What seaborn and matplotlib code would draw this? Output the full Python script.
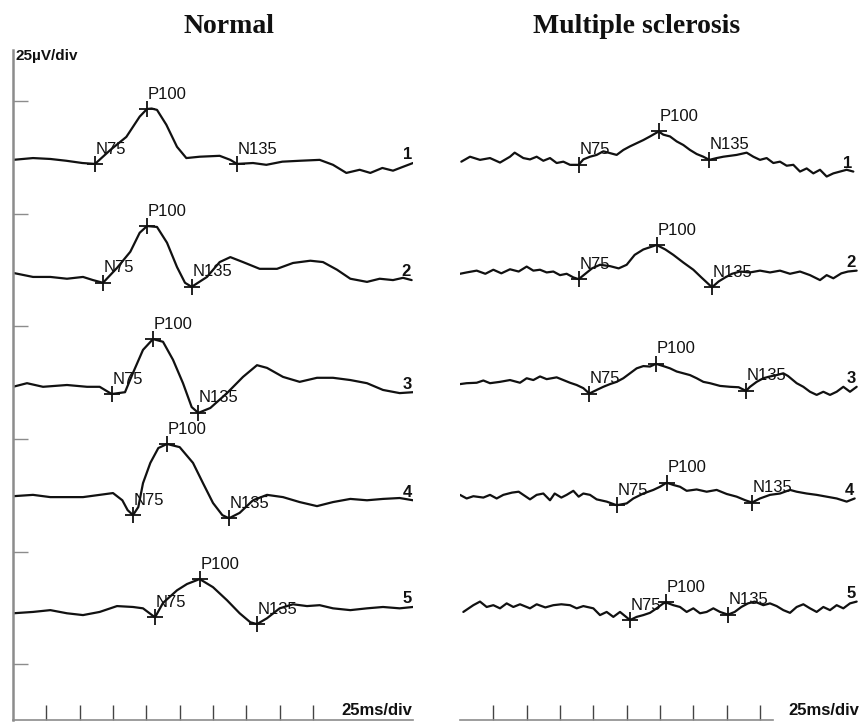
import matplotlib
matplotlib.use("Agg")
import matplotlib.pyplot as plt
import pandas as pd
import seaborn as sns

# Pattern-reversal VEP traces, latency in ms, amplitude in uV
CHANNEL_STEP = 25  # uV between stacked channels (25 uV/div)

# ---- Normal subject ----
NORMAL_1_MS = [0, 15, 28, 40, 52, 61.5, 73, 85, 95, 100.5, 104, 108, 115, 123, 130, 140, 155, 163, 168, 180,
               190, 202, 215, 230, 240, 250, 260, 268, 277, 285, 292, 300]
NORMAL_1_UV = [0, 0.4, 0.2, -0.2, -0.7, -0.9, 2.2, 5.1, 9.6, 11.3, 11.4, 11.1, 7.8, 2.9, 0.4, 0.7, 0.9, 0, -0.9, -0.7,
               -1.1, -0.4, -0.2, 0, -1.1, -2.9, -2.2, -2.9, -1.8, -2.4, -1.6, -0.7]

NORMAL_2_MS = [0, 15, 28, 40.5, 52.5, 60, 67.5, 78, 88, 95, 100.5, 108, 115.5, 123, 129, 134, 145.5, 155, 163, 172.5,
               185, 198, 210, 223, 232.5, 243, 253, 265.5, 275, 285, 292.5, 299]
NORMAL_2_UV = [-0.1, -1, -1, -1.4, -1, -1.7, -2.3, 1, 4.6, 8.8, 10.3, 10.1, 6.6, 1.2, -2.3, -3.2, -1, 2.3, 3.4, 2.3,
               0.8, 0.8, 2.1, 2.6, 2.3, 0.6, -1.4, -2.1, -1.4, -1.7, -1.2, -1.7]

NORMAL_3_MS = [0, 10.5, 22.5, 40.5, 55.5, 65, 74, 84, 90, 97.5, 105, 112.5, 120, 127.5, 134, 139, 148, 160.5, 172.5,
               183, 190.5, 202.5, 215, 228, 240, 253, 265.5, 277.5, 290, 300]
NORMAL_3_UV = [-0.4, 0.4, -0.4, 0, -0.4, -0.4, -2, -1.6, 2.7, 7.8, 10.2, 9.6, 5.6, 0.4, -4.9, -6.2, -5.1, -1.8, 1.8,
               4.4, 3.8, 1.8, 0.7, 1.6, 1.6, 1.1, 0.4, -1.1, -1.8, -1.6]

NORMAL_4_MS = [0, 15, 28, 40.5, 52.5, 65, 75, 82, 86, 90, 94, 97.5, 103, 109, 115.5, 125, 135, 142.5, 150, 157,
               162, 170, 180, 190.5, 202.5, 215, 228, 240, 253, 265.5, 277.5, 290, 300]
NORMAL_4_UV = [0.3, 0.6, 0.1, 0.1, 0.1, 0.6, 1, -0.6, -2.8, -3.9, -2.1, 3.2, 7.7, 11, 11.9, 11.2, 7.7, 3.2, -1.2, -3.9,
               -4.6, -3.4, -0.6, 0.6, 0.1, -1, -1.9, -1, -0.3, -0.6, -0.3, -0.1, -0.6]

NORMAL_5_MS = [0, 15, 28, 40.5, 52.5, 65, 78, 90, 97.5, 106.5, 112.5, 123, 130.5, 140, 150, 160.5, 170, 178, 183,
               190.5, 200, 210, 220.5, 230, 240, 253, 265.5, 277.5, 290, 300]
NORMAL_5_UV = [-0.7, -0.4, 0, -0.7, -1.1, -0.4, 0.9, 0.7, 0.4, -1.6, 1.6, 4.4, 5.8, 6.9, 5.1, 2.2, -0.7, -2.7, -3.1,
               -1.8, 0.4, 1.3, 0.9, 1.1, 0.4, 0, 0.4, 0.7, 0.4, 0.7]

NORMAL_N75_MS = [61.5, 67.5, 74, 90, 106.5]
NORMAL_N75_UV = [-0.9, -2.3, -2.0, -3.9, -1.6]
NORMAL_P100_MS = [100.5, 100.5, 105, 115.5, 140]
NORMAL_P100_UV = [11.3, 10.3, 10.2, 11.9, 6.9]
NORMAL_N135_MS = [168, 134, 139, 162, 183]
NORMAL_N135_UV = [-0.9, -3.2, -6.2, -4.6, -3.1]

# ---- Multiple sclerosis patient ----
MS_1_MS = [1, 7.5, 15, 22.5, 30, 37.5, 41, 47.5, 52.5, 57.5, 62.5, 67.5, 72.5, 77.5, 82.5, 89, 92.5, 97.5, 102.5,
           107.5, 112.5, 117.5, 122.5, 127.5, 132.5, 137.5, 142.5, 149, 152.5, 157.5, 162.5, 167.5, 172.5, 177.5,
           182.5, 187, 192.5, 197.5, 202.5, 207.5, 215, 220, 225, 230, 235, 240, 245, 250, 255, 260, 265, 270, 275,
           280, 285, 290, 295]
MS_1_UV = [-0.4, 0.7, 0, 0.4, -0.6, 0.7, 1.6, 0.4, 0.1, 0.7, -0.2, 0.4, -0.7, -0.4, -1.1, -1.1, 0.1, 0.7, 1.1,
           1.9, 1.5, 1.1, 2.2, 3.0, 3.7, 4.4, 5.2, 6.3, 5.6, 5.2, 4.1, 3.3, 2.2, 1.3,
           0.7, 0, 0.4, 0.7, 0.9, 1.1, 1.6, 0.7, 0, 0.4, -0.7, -0.4, -1.3, -1.1, -2.6, -1.9, -3.0, -2.2, -3.7,
           -3.0, -2.6, -2.2, -2.6]

MS_2_MS = [0, 5, 12.5, 19, 25, 31, 37.5, 44, 50, 55, 60, 65, 70, 75, 80, 85, 89, 94, 99, 105, 112.5, 119, 125, 131,
           137.5, 142.5, 147.5, 154, 160, 167.5, 175, 181, 189, 194, 199, 204, 210, 217.5, 225, 232.5, 240, 247.5,
           255, 262.5, 270, 275, 280, 286, 291, 297.5]
MS_2_UV = [-0.3, 0, 0.4, -0.3, 0.6, -0.2, 0.7, 0.2, 1.3, 0.4, 0.6, 0, 0.2, -0.6, -0.3, -1.1, -1.5, -0.3, 0.9, 1.7,
           1.4, 0.9, 1.7, 3.9, 5.1, 5.6, 6.1, 5.1, 3.9, 2.2, 0.6, -1.1, -3.3, -2.0, -1.1, -0.3, 0.2, 0, 0.4, 0,
           0.4, -0.3, 0.2, -0.6, -1.7, -0.6, -1.3, -0.2, 0.2, 0.4]

MS_3_MS = [0, 5, 12.5, 17.5, 22.5, 30, 37.5, 45, 50, 55, 60, 65, 72.5, 77.5, 82.5, 87.5, 92.5, 97, 102.5, 107.5,
           112.5, 117.5, 122.5, 127.5, 132.5, 137.5, 142.5, 147, 152.5, 157.5, 162.5, 167.5, 172.5, 177.5, 182.5,
           187.5, 195, 202.5, 209, 214.5, 217.5, 222.5, 227.5, 232.5, 237.5, 242.5, 246, 252.5, 257.5, 262.5,
           267.5, 272.5, 277.5, 282.5, 287.5, 292.5, 297.5]
MS_3_UV = [0.2, 0.4, 0.5, 1.0, 0.4, 0.7, 1.1, 0.5, 1.5, 1.1, 1.9, 1.3, 1.7, 1.1, 0.5, 0, -0.7, -1.9, -1.1, -0.4,
           0.2, 0.7, 1.5, 2.6, 3.7, 4.2, 4.1, 4.7, 4.2, 3.7, 3.0, 2.6, 2.2, 1.5, 0.7,
           0.4, -0.2, -0.4, -0.5, -1.3, -0.4, 0.7, 1.5, 1.9, 2.2, 2.6, 2.0, 0.4, -0.4, -1.5,
           -2.2, -1.5, -2.2, -1.5, -0.4, -1.5, -0.4]

MS_4_MS = [0, 5, 10, 17.5, 22.5, 27.5, 32.5, 39, 44, 49, 52.5, 57.5, 62.5, 67.5, 71, 76, 80, 85, 89, 92.5, 97.5,
           102.5, 110, 117.5, 125, 130, 137.5, 145, 150, 155, 160, 165, 170, 177.5, 185, 192.5, 200, 207.5, 214,
           219, 225, 232.5, 240, 247.5, 252.5, 260, 267.5, 275, 282.5, 290, 296]
MS_4_UV = [0.6, -0.2, 0.3, 0, 0.6, -0.2, 0.6, 1.1, 1.3, 0.3, -0.4, 0.6, 0.9, -0.6, 0.9, 0, 0.6, 1.5, 0.2, 0.9, 0.6,
           -0.4, -0.9, -1.7, -1.3, -0.2, 0.9, 1.7, 2.4, 3.3, 2.8, 2.4, 1.5, 1.8, 1.3, 1.7, 0.8, 0.2, -0.6,
           -1.1, -0.2, 0.6, 0.9, 1.7, 1.3, 0.9, 0.6, 0.2, -0.2, -0.9, -0.2]

MS_5_MS = [2.5, 10, 15, 20, 25, 30, 35, 40, 45, 52.5, 57.5, 64, 70, 76, 82.5, 87.5, 92.5, 100, 105, 110, 115, 120,
           127.5, 132.5, 137.5, 142.5, 147.5, 152.5, 154.5, 160, 165, 170, 175, 180, 185, 190, 195, 201, 206, 211,
           216, 221, 227.5, 232.5, 237.5, 242.5, 247.5, 252.5, 257.5, 262.5, 267.5, 272.5, 277.5, 282.5, 287.5,
           292.5, 297.5]
MS_5_UV = [-0.4, 1.1, 1.9, 0.7, 1.1, 0.4, 1.5, 0.7, 1.3, 0.4, 1.3, 0.6, 1.1, 1.3, 1.1, 0.4, 0.9, 0.4, -1.1, -0.4,
           -1.5, -0.4, -2.2, -1.5, -1.1, -0.6, 0.4, 1.5, 1.7, 1.1, 0.7, -0.4, 0.4, -0.7, -0.4, 0.4, -0.4, -1.0,
           -0.4, 0.7, 1.5, 1.9, 1.1, 1.5, 0.9, 0, -0.6, 0.7, 1.3, 0.4, -0.4, 0.7, 0, 1.1, 0.4, 1.5, 1.9]

MS_N75_MS = [89, 89, 97, 117.5, 127.5]
MS_N75_UV = [-1.1, -1.5, -1.9, -1.7, -2.2]
MS_P100_MS = [149, 147.5, 147, 155, 154.5]
MS_P100_UV = [6.3, 6.1, 4.7, 3.3, 1.7]
MS_N135_MS = [187, 189, 214.5, 219, 201]
MS_N135_UV = [0, -3.3, -1.3, -1.1, -1.0]

INK = "#111111"
AXIS_GREY = "#8c8c8c"
W, H = 860, 722


def trace_frame(traces_ms, traces_uv):
    rows = []
    for ch, (ms, uv) in enumerate(zip(traces_ms, traces_uv), start=1):
        off = -CHANNEL_STEP * (ch - 1)
        for t, v in zip(ms, uv):
            rows.append({"channel": ch, "ms": t, "y": v + off})
    return pd.DataFrame(rows)


def peak_frame(components):
    rows = []
    for name, ms, uv in components:
        for ch, (t, v) in enumerate(zip(ms, uv), start=1):
            rows.append({"peak": name, "channel": ch, "ms": t, "y": v - CHANNEL_STEP * (ch - 1)})
    return pd.DataFrame(rows)


def draw_panel(ax, traces_ms, traces_uv, components):
    df = trace_frame(traces_ms, traces_uv)
    sns.lineplot(data=df, x="ms", y="y", units="channel", estimator=None, sort=False,
                 color=INK, lw=1.6, ax=ax)
    for line in ax.lines:
        line.set_solid_joinstyle("round")

    peaks = peak_frame(components)
    sns.scatterplot(data=peaks, x="ms", y="y", marker="+", s=130, color=INK,
                    linewidth=1.3, ax=ax, zorder=4)
    for _, row in peaks.iterrows():
        ax.annotate(row["peak"], (row["ms"], row["y"]), xytext=(0.5, 7.5),
                    textcoords="offset points", ha="left", va="baseline",
                    fontsize=12, color=INK)

    # channel numbers sit just above the end of each trace
    for ch, (ms, uv) in enumerate(zip(traces_ms, traces_uv), start=1):
        ax.text(ms[-1] - 0.8, uv[-1] - CHANNEL_STEP * (ch - 1) + 0.8, str(ch),
                ha="right", va="baseline", fontsize=12, fontweight="bold", color=INK)

    ax.set_xlim(0, 300)
    ax.set_ylim(-124.4, 24.4)
    ax.set_xlabel("")
    ax.set_ylabel("")
    ax.set_xticks([25 * k for k in range(1, 10)])
    ax.tick_params(axis="both", direction="in", length=10, width=1, color=AXIS_GREY,
                   bottom=True, labelleft=False, labelbottom=False)
    ax.tick_params(axis="x", length=11, color="#444444")
    for side in ["top", "right"]:
        ax.spines[side].set_visible(False)
    ax.spines["bottom"].set_color(AXIS_GREY)
    ax.spines["bottom"].set_linewidth(1.2)


def main():
    sns.set_style("white")
    plt.rcParams["font.family"] = ["Liberation Sans", "DejaVu Sans"]

    fig = plt.figure(figsize=(W / 100, H / 100), dpi=100)
    ax_n = fig.add_axes([13 / W, 2 / H, 400 / W, 670 / H])
    ax_m = fig.add_axes([460 / W, 2 / H, 400 / W, 670 / H])
    for ax in (ax_n, ax_m):
        ax.patch.set_alpha(0)

    draw_panel(
        ax_n,
        [NORMAL_1_MS, NORMAL_2_MS, NORMAL_3_MS, NORMAL_4_MS, NORMAL_5_MS],
        [NORMAL_1_UV, NORMAL_2_UV, NORMAL_3_UV, NORMAL_4_UV, NORMAL_5_UV],
        [("N75", NORMAL_N75_MS, NORMAL_N75_UV),
         ("P100", NORMAL_P100_MS, NORMAL_P100_UV),
         ("N135", NORMAL_N135_MS, NORMAL_N135_UV)],
    )
    draw_panel(
        ax_m,
        [MS_1_MS, MS_2_MS, MS_3_MS, MS_4_MS, MS_5_MS],
        [MS_1_UV, MS_2_UV, MS_3_UV, MS_4_UV, MS_5_UV],
        [("N75", MS_N75_MS, MS_N75_UV),
         ("P100", MS_P100_MS, MS_P100_UV),
         ("N135", MS_N135_MS, MS_N135_UV)],
    )

    # amplitude axis only on the left panel
    ax_n.set_yticks([13 - CHANNEL_STEP * k for k in range(6)])
    ax_n.tick_params(axis="y", left=True, length=11)
    ax_n.spines["left"].set_color(AXIS_GREY)
    ax_n.spines["left"].set_linewidth(1.8)
    ax_m.set_yticks([])
    ax_m.tick_params(axis="y", left=False)
    ax_m.spines["left"].set_visible(False)
    ax_m.spines["bottom"].set_bounds(0, 235)

    title_kw = dict(fontsize=20, fontweight="bold", family=["Liberation Serif", "DejaVu Serif"],
                    ha="center", va="baseline", color=INK)
    fig.text(229 / W, 1 - 33 / H, "Normal", **title_kw)
    fig.text(637 / W, 1 - 33 / H, "Multiple sclerosis", **title_kw)

    fig.text(15 / W, 1 - 60 / H, "25µV/div", fontsize=11, fontweight="bold",
             ha="left", va="baseline", color=INK)
    fig.text(412 / W, 1 - 715 / H, "25ms/div", fontsize=12, fontweight="bold",
             ha="right", va="baseline", color=INK)
    fig.text(859 / W, 1 - 715 / H, "25ms/div", fontsize=12, fontweight="bold",
             ha="right", va="baseline", color=INK)

    fig.savefig("out.png", dpi=100, facecolor="white")
    plt.close(fig)


if __name__ == "__main__":
    main()
